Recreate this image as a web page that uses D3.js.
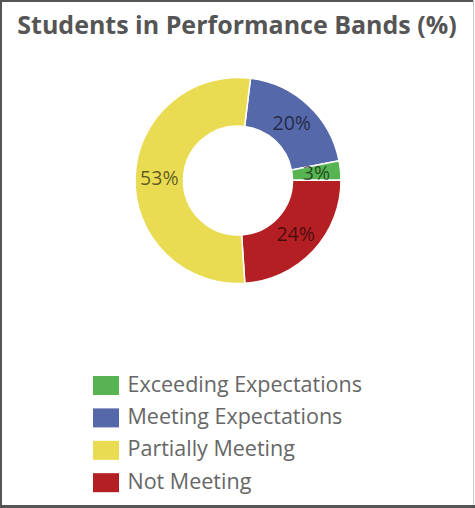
<!DOCTYPE html>
<meta charset="utf-8">
<style>
body { margin: 0; background: #fff; }
svg { display: block; }
</style>
<svg width="475" height="508"></svg>
<script src="https://cdn.jsdelivr.net/npm/d3@7"></script>
<script>

// slices in drawing order (clockwise from the top)
var bands = ["Meeting Expectations", "Exceeding Expectations", "Not Meeting", "Partially Meeting"];
var shares = [20, 3, 24, 53];
// legend order
var legendBands = ["Exceeding Expectations", "Meeting Expectations", "Partially Meeting", "Not Meeting"];
var bandColors = {
  "Exceeding Expectations": "#58b452",
  "Meeting Expectations": "#5568a9",
  "Partially Meeting": "#e9dc52",
  "Not Meeting": "#b31f22"
};

var svg = d3.select("svg"),
    width = +svg.attr("width"),
    height = +svg.attr("height");

// frame
svg.append("path")
    .attr("d", "M1," + height + "V1H" + (width - 1))
    .attr("fill", "none").attr("stroke", "#555").attr("stroke-width", 2);
svg.append("path")
    .attr("d", "M0," + (height - 1.5) + "H" + width)
    .attr("fill", "none").attr("stroke", "#555").attr("stroke-width", 3);
svg.append("path")
    .attr("d", "M473.5,0V" + (height - 3))
    .attr("fill", "none").attr("stroke", "#c8c8c8").attr("stroke-width", 1);

// title
svg.append("text")
    .attr("x", 237)
    .attr("y", 34)
    .attr("text-anchor", "middle")
    .style("font", "bold 25px 'Open Sans', sans-serif")
    .style("fill", "#555")
    .text("Students in Performance Bands (%)");

var cx = 238, cy = 180.5, rOuter = 103, rInner = 54.5;

var pie = d3.pie()
    .sort(null)
    .startAngle(7 * Math.PI / 180)
    .endAngle(7 * Math.PI / 180 + 2 * Math.PI);

var arc = d3.arc().innerRadius(rInner).outerRadius(rOuter);

var data = bands.map(function(b, i) { return {band: b, value: shares[i]}; });
var arcs = pie.value(function(d) { return d.value; })(data);

var g = svg.append("g").attr("transform", "translate(" + cx + "," + cy + ")");

g.selectAll("path.slice")
    .data(arcs)
    .enter().append("path")
    .attr("class", "slice")
    .attr("d", arc)
    .attr("fill", function(d) { return bandColors[d.data.band]; })
    .attr("stroke", "#fff")
    .attr("stroke-width", 1.5);

g.selectAll("text.pct")
    .data(arcs)
    .enter().append("text")
    .attr("class", "pct")
    .attr("transform", function(d) { return "translate(" + arc.centroid(d) + ")"; })
    .attr("text-anchor", "middle")
    .attr("dy", "0.35em")
    .style("font", "19.5px 'Open Sans', sans-serif")
    .style("fill", "rgba(0,0,0,0.6)")
    .text(function(d) { return d.data.value + "%"; });

// legend
var legend = svg.append("g").attr("transform", "translate(93,376)");
var item = legend.selectAll("g")
    .data(legendBands)
    .enter().append("g")
    .attr("transform", function(d, i) { return "translate(0," + (i * 32.4) + ")"; });

item.append("rect")
    .attr("width", 26)
    .attr("height", 19)
    .attr("fill", function(d) { return bandColors[d]; });

item.append("text")
    .attr("x", 34.5)
    .attr("y", 15.5)
    .style("font", "21.5px 'Open Sans', sans-serif")
    .style("fill", "#666")
    .text(function(d) { return d; });

</script>
